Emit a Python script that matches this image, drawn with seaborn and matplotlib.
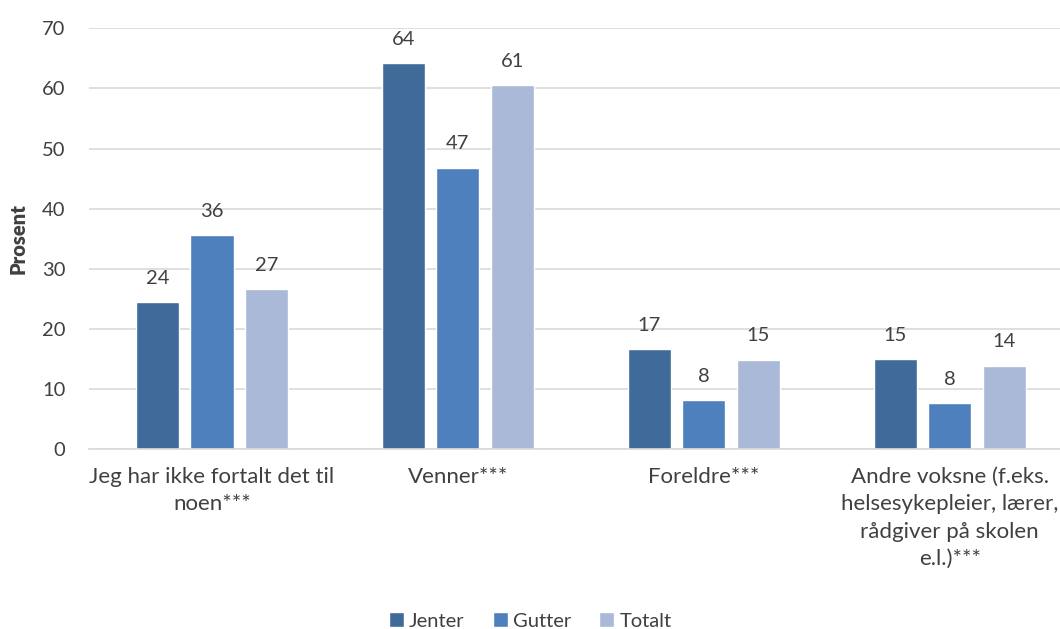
import matplotlib
matplotlib.use("Agg")
import matplotlib.pyplot as plt
import seaborn as sns
import pandas as pd

categories = [
    "Jeg har ikke fortalt det til\nnoen***",
    "Venner***",
    "Foreldre***",
    "Andre voksne (f.eks.\nhelsesykepleier, lærer,\nrådgiver på skolen\ne.l.)***",
]
series = ["Jenter", "Gutter", "Totalt"]
jenter = [24.4, 64.2, 16.6, 15.0]
gutter = [35.6, 46.8, 8.1, 7.6]
totalt = [26.6, 60.6, 14.9, 13.9]
colors = ["#3F6A99", "#4E80BD", "#AAB9D7"]
yticks = [0, 10, 20, 30, 40, 50, 60, 70]

rows = []
for name, vals in zip(series, [jenter, gutter, totalt]):
    for c, v in zip(categories, vals):
        rows.append({"Kategori": c, "Gruppe": name, "Prosent": v})
df = pd.DataFrame(rows)

sns.set_theme(style="white")
plt.rcParams["font.family"] = ["Lato", "DejaVu Sans"]
txt = "#404040"

fig = plt.figure(figsize=(10.6, 6.29), dpi=100)
ax = fig.add_axes([0.084, 0.286, 0.928, 0.669])

sns.barplot(data=df, x="Kategori", y="Prosent", hue="Gruppe", hue_order=series,
            palette=colors, width=0.665, gap=0.21, ax=ax, legend=True,
            saturation=1, errorbar=None)

for cont in ax.containers:
    ax.bar_label(cont, fmt="%.0f", padding=11, fontsize=14.5, color=txt)

ax.set_ylim(0, 70)
ax.set_yticks(yticks)
ax.set_yticklabels([str(t) for t in yticks], fontsize=14.5, color=txt)
ax.tick_params(axis="y", length=0, pad=17)
ax.tick_params(axis="x", length=0, pad=13)
for lbl in ax.get_xticklabels():
    lbl.set_fontsize(16)
    lbl.set_color(txt)
    lbl.set_linespacing(1.45)
ax.set_xlabel("")
ax.set_ylabel("Prosent", fontsize=14.5, fontweight="heavy", color=txt, labelpad=10)
ax.yaxis.grid(True, color="#D9D9D9", linewidth=1.2)
ax.set_axisbelow(True)
for s in ["top", "right", "left"]:
    ax.spines[s].set_visible(False)
ax.spines["bottom"].set_color("#D9D9D9")
ax.spines["bottom"].set_linewidth(1.2)
ax.set_xlim(-0.5, 3.5)

handles, labels = ax.get_legend_handles_labels()
ax.get_legend().remove()
leg = fig.legend(handles, labels, loc="lower center", bbox_to_anchor=(0.5, -0.03),
                 ncol=3, frameon=False, fontsize=14.5, handlelength=0.75,
                 handleheight=0.75, handletextpad=0.25, columnspacing=1.4)
for t in leg.get_texts():
    t.set_color(txt)

fig.savefig("out.png", dpi=100)
